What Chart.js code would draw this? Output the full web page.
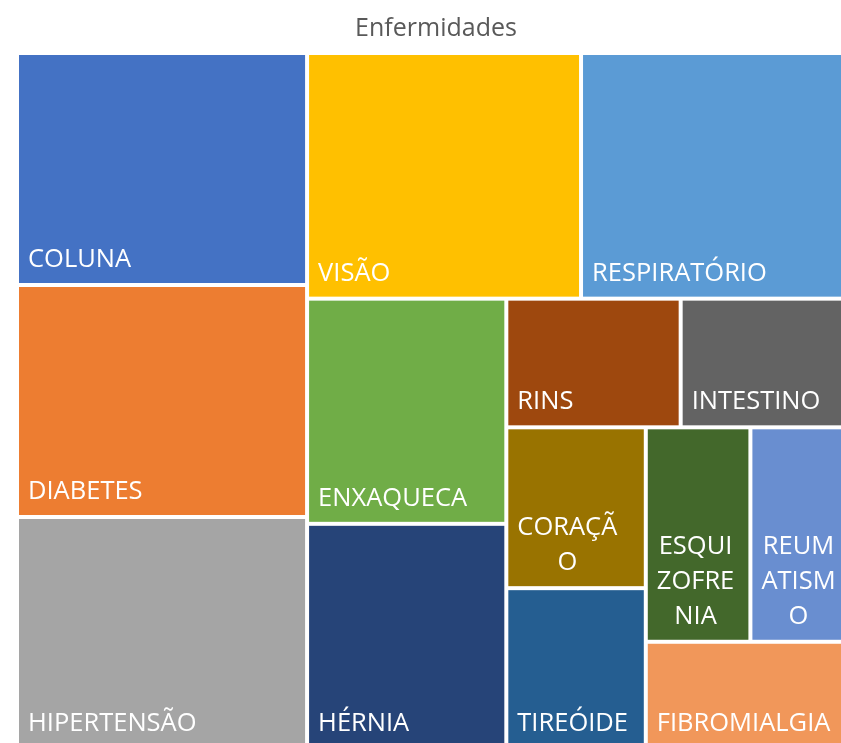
<!DOCTYPE html>
<html lang="pt">
<head>
<meta charset="utf-8">
<title>Enfermidades</title>
<script src="https://cdn.jsdelivr.net/npm/chart.js@4.4.1/dist/chart.umd.min.js"></script>
<style>
    html, body { margin: 0; padding: 0; background: #ffffff; overflow: hidden; }
    #treemap-chart { display: block; }
</style>
</head>
<body>
<!-- the reference is a crop of a slightly larger chart, so the canvas runs past the window -->
<canvas id="treemap-chart" width="872" height="766"></canvas>
<script>

    //---------------------------------------------------------------------------------------------
    // - DATA -------------------------------------------------------------------------------------
    //---------------------------------------------------------------------------------------------

    var categories = ["COLUNA", "DIABETES", "HIPERTENSÃO", "VISÃO", "RESPIRATÓRIO", "ENXAQUECA", "HÉRNIA",
                      "RINS", "INTESTINO", "CORAÇÃO", "TIREÓIDE", "ESQUIZOFRENIA", "REUMATISMO", "FIBROMIALGIA"];

    var values = [3, 3, 3, 3, 3, 2, 2, 1, 1, 1, 1, 1, 1, 1];

    var colors = ["#4472C4", "#ED7D31", "#A5A5A5", "#FFC000", "#5B9BD5", "#70AD47", "#264478",
                  "#9E480E", "#636363", "#997300", "#255E91", "#43682B", "#698ED0", "#F1975A"];

    //---------------------------------------------------------------------------------------------
    // - SQUARIFIED LAYOUT ------------------------------------------------------------------------
    //---------------------------------------------------------------------------------------------

    function worst(row, side) {
        var sum = 0;
        row.forEach(function (it) { sum += it.area; });
        var thick = sum / side;
        var w = 0;
        row.forEach(function (it) {
            var len = it.area / thick;
            w = Math.max(w, len / thick, thick / len);
        });
        return w;
    }

    function squarify(items, x, y, w, h) {
        var rects = [];
        var rest = items.slice();
        while (rest.length) {
            var column = w >= h;
            var side = column ? h : w;
            var row = [rest[0]];
            var i = 1;
            // a strip takes at least two items (that is how Excel lays this one out)
            while (i < rest.length) {
                var next = row.concat([rest[i]]);
                if (row.length >= 2 && worst(next, side) > worst(row, side)) break;
                row = next;
                i++;
            }
            rest = rest.slice(row.length);

            var sum = 0;
            row.forEach(function (it) { sum += it.area; });
            var thick = sum / side;
            var off = 0;
            row.forEach(function (it) {
                var len = it.area / thick;
                if (column) {
                    rects.push({ index: it.index, x: x, y: y + off, w: thick, h: len });
                } else {
                    rects.push({ index: it.index, x: x + off, y: y, w: len, h: thick });
                }
                off += len;
            });
            if (column) { x += thick; w -= thick; } else { y += thick; h -= thick; }
        }
        return rects;
    }

    // break a label on characters when it does not fit the cell
    function wrapLabel(ctx, text, maxWidth) {
        var lines = [];
        var line = "";
        for (var i = 0; i < text.length; i++) {
            var test = line + text[i];
            if (line && ctx.measureText(test).width > maxWidth) {
                lines.push(line);
                line = text[i];
            } else {
                line = test;
            }
        }
        if (line) lines.push(line);
        return lines;
    }

    //---------------------------------------------------------------------------------------------
    // - TREEMAP PLUGIN ---------------------------------------------------------------------------
    //---------------------------------------------------------------------------------------------

    var treemap_plugin = {
        id: 'treemap',
        afterDatasetsDraw: function (chart) {
            var ctx = chart.ctx;
            var area = chart.chartArea;
            var xScale = chart.scales.x;
            var yScale = chart.scales.y;
            var W = area.right - area.left;
            var H = area.bottom - area.top;

            var total = 0;
            values.forEach(function (v) { total += v; });
            var items = values.map(function (v, i) {
                return { index: i, area: v / total * W * H };
            });
            items.sort(function (a, b) { return b.area - a.area; });

            var rects = squarify(items, 0, 0, W, H);

            ctx.save();
            ctx.font = '25.5px "Open Sans"';
            ctx.textBaseline = 'alphabetic';
            ctx.textAlign = 'left';

            rects.forEach(function (r) {
                var left = xScale.getPixelForValue(r.x / W * 100);
                var right = xScale.getPixelForValue((r.x + r.w) / W * 100);
                var top = yScale.getPixelForValue(r.y / H * 100);
                var bottom = yScale.getPixelForValue((r.y + r.h) / H * 100);

                // 2px white border round every cell
                var fx = left + 2, fy = top + 2, fw = right - left - 4, fh = bottom - top - 4;
                ctx.fillStyle = colors[r.index];
                ctx.fillRect(fx, fy, fw, fh);

                var lines = wrapLabel(ctx, categories[r.index], fw - 21);
                var blockW = 0;
                lines.forEach(function (l) { blockW = Math.max(blockW, ctx.measureText(l).width); });

                ctx.fillStyle = '#ffffff';
                var base = fy + fh - 16 - (lines.length - 1) * 35;
                lines.forEach(function (l, k) {
                    var lw = ctx.measureText(l).width;
                    ctx.fillText(l, fx + 9 + (blockW - lw) / 2, base + k * 35);
                });
            });
            ctx.restore();
        }
    };

    //---------------------------------------------------------------------------------------------
    // - CHART ------------------------------------------------------------------------------------
    //---------------------------------------------------------------------------------------------

    var treemap_chart_config = {
        type: 'scatter',
        data: {
            datasets: [{
                label: 'Enfermidades',
                data: []
            }]
        },
        options: {
            responsive: false,
            devicePixelRatio: 1,
            animation: false,
            layout: {
                padding: { left: 17, right: 17, top: 0, bottom: 17 }
            },
            plugins: {
                legend: { display: false },
                tooltip: { enabled: false },
                title: {
                    display: true,
                    text: 'Enfermidades',
                    color: '#595959',
                    font: { family: 'Open Sans', size: 25, weight: 'normal' },
                    padding: { top: 14, bottom: 9 }
                }
            },
            scales: {
                x: { type: 'linear', display: false, min: 0, max: 100 },
                y: { type: 'linear', display: false, min: 0, max: 100, reverse: true }
            }
        },
        plugins: [treemap_plugin]
    };

    var treemap_chart_ctx = document.getElementById("treemap-chart").getContext("2d");

    new Chart(treemap_chart_ctx, treemap_chart_config);

</script>
</body>
</html>
